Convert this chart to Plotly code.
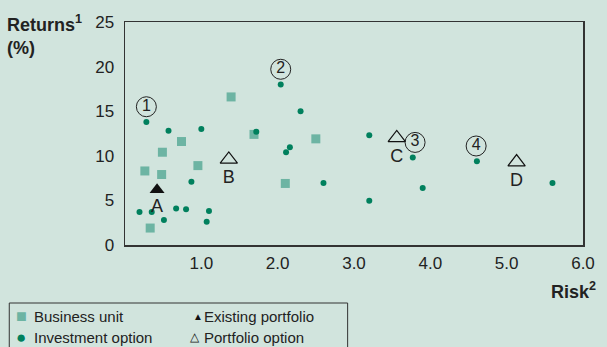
import plotly.graph_objects as go

# ---- data ----
bu_risk = [1.39, 1.69, 0.74, 0.49, 0.955, 0.26, 0.48, 2.10, 0.33, 2.50]
bu_ret = [16.6, 12.4, 11.6, 10.4, 8.9, 8.3, 7.9, 6.9, 1.9, 11.9]

inv_risk = [0.28, 0.57, 1.00, 2.04, 1.72, 2.16, 2.11, 0.87, 0.19, 0.35, 0.51, 0.67, 0.80,
            1.10, 1.07, 2.30, 3.20, 3.77, 4.61, 5.60, 2.60, 3.90, 3.20]
inv_ret = [13.8, 12.8, 13.0, 18.0, 12.7, 10.95, 10.4, 7.1, 3.7, 3.7, 2.8, 4.1, 4.0,
           3.8, 2.6, 15.0, 12.3, 9.8, 9.4, 6.95, 6.95, 6.4, 4.97]

exist_risk = [0.42]
exist_ret = [6.2]
exist_lab = ["A"]

opt_risk = [1.36, 3.56, 5.13]
opt_ret = [9.6, 12.0, 9.3]
opt_lab = ["B", "C", "D"]

circ_risk = [0.28, 2.04, 3.80, 4.60]
circ_ret = [15.5, 19.7, 11.5, 11.1]
circ_lab = ["1", "2", "3", "4"]

x_ticks = [1, 2, 3, 4, 5, 6]
x_tick_text = ["1.0", "2.0", "3.0", "4.0", "5.0", "6.0"]
y_ticks = [0, 5, 10, 15, 20, 25]

legend_names = ["Business unit", "Investment option", "Existing portfolio", "Portfolio option"]

BG = "#d1e4dd"
SQ = "#6db4a3"
DOT = "#00805d"
INK = "#222222"
FONT = "Liberation Sans, Arial, sans-serif"

# plot area in pixels
L, T, W, H = 125, 22, 467, 223


def px(x):
    return (x - L) / W


def py(y):
    return (T + H - y) / H


fig = go.Figure()
fig.add_trace(go.Scatter(x=bu_risk, y=bu_ret, mode="markers", name=legend_names[0],
                         marker=dict(symbol="square", size=9, color=SQ)))
fig.add_trace(go.Scatter(x=inv_risk, y=inv_ret, mode="markers", name=legend_names[1],
                         marker=dict(symbol="circle", size=6, color=DOT)))
fig.add_trace(go.Scatter(x=exist_risk, y=exist_ret, mode="markers+text", name=legend_names[2],
                         text=exist_lab, textposition="bottom center",
                         textfont=dict(size=18, color=INK),
                         marker=dict(symbol="triangle-up", size=13, color="#111111")))
fig.add_trace(go.Scatter(x=opt_risk, y=opt_ret, mode="markers+text", name=legend_names[3],
                         text=opt_lab, textposition="bottom center",
                         textfont=dict(size=18, color=INK),
                         marker=dict(symbol="triangle-up-open", size=15, color="#111111",
                                     line=dict(width=1.2))))
fig.add_trace(go.Scatter(x=circ_risk, y=circ_ret, mode="markers+text",
                         text=circ_lab, textposition="middle center",
                         textfont=dict(size=16, color=INK),
                         marker=dict(symbol="circle-open", size=20, color=INK,
                                     line=dict(width=1))))

fig.update_traces(showlegend=False, hoverinfo="skip")

fig.update_layout(
    width=607, height=347,
    margin=dict(l=L, r=607 - L - W, t=T, b=347 - T - H),
    paper_bgcolor=BG, plot_bgcolor=BG,
    font=dict(family=FONT, size=17, color=INK),
    showlegend=False,
)
fig.update_xaxes(range=[0, 6], tickvals=x_ticks, ticktext=x_tick_text,
                 showgrid=False, zeroline=False, showline=True, mirror=True,
                 linecolor="#333333", linewidth=1.5, ticks="", ticklabelstandoff=2,
                 tickfont=dict(size=17))
fig.update_yaxes(range=[0, 25], tickvals=y_ticks, showgrid=False, zeroline=False,
                 showline=True, mirror=True, linecolor="#333333", linewidth=1.5,
                 ticks="", ticklabelstandoff=6, tickfont=dict(size=17))

fig.add_annotation(text="<b>Returns<sup>1</sup><br>(%)</b>", xref="paper", yref="paper",
                   x=px(3), y=py(10), xanchor="left", yanchor="top",
                   align="left", showarrow=False, font=dict(size=18, color=INK))
fig.add_annotation(text="<b>Risk<sup>2</sup></b>", xref="paper", yref="paper",
                   x=px(607), y=py(290), xanchor="right", yanchor="middle",
                   showarrow=False, font=dict(size=18, color=INK))

# legend box and entries
fig.add_shape(type="rect", xref="paper", yref="paper",
              x0=px(7), x1=px(352), y0=py(303), y1=py(365),
              line=dict(color="#333333", width=1), fillcolor="rgba(0,0,0,0)")
legend_keys = [("■", SQ, 18, 19, 316), ("●", DOT, 17, 19, 337),
               ("▲", "#111111", 10, 199, 316), ("△", "#111111", 12, 196, 337)]
legend_text_pos = [(30, 316), (30, 337), (204, 316), (204, 337)]
for (g, c, s, gx, gy), name, (tx, ty) in zip(legend_keys, legend_names, legend_text_pos):
    fig.add_annotation(text=g, xref="paper", yref="paper", x=px(gx), y=py(gy),
                       xanchor="center", yanchor="middle", showarrow=False,
                       font=dict(size=s, color=c))
    fig.add_annotation(text=name, xref="paper", yref="paper", x=px(tx), y=py(ty),
                       xanchor="left", yanchor="middle", showarrow=False,
                       font=dict(size=15, color=INK))

fig.write_html("out.html", config={"displayModeBar": False, "staticPlot": True},
               post_script="document.body.style.margin='0';")
